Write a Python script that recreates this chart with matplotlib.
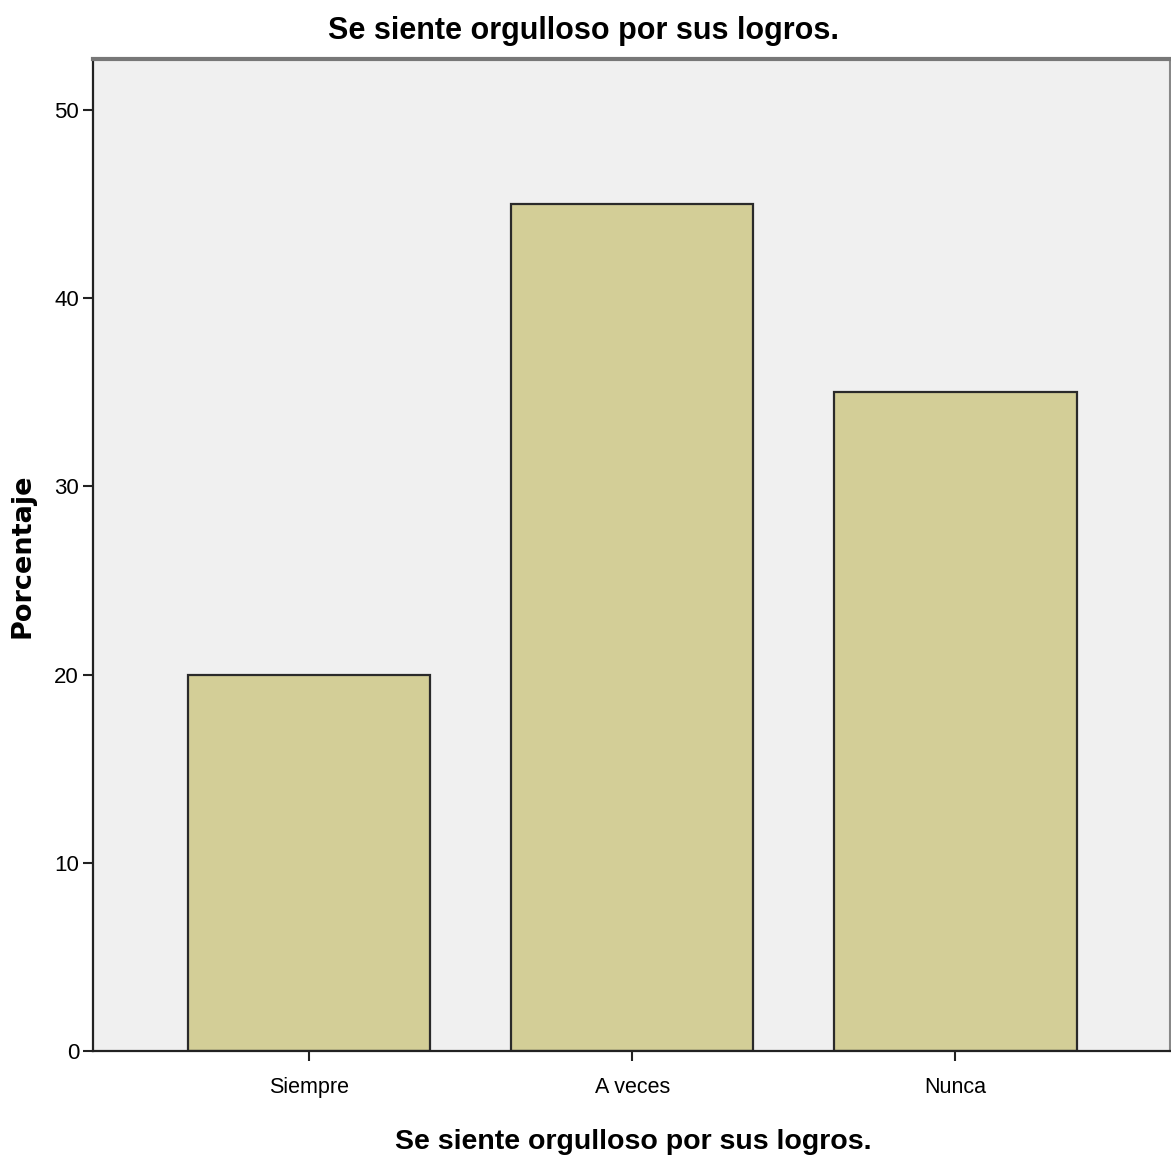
import matplotlib
matplotlib.use("Agg")
import matplotlib.pyplot as plt
from matplotlib import font_manager

categories = ["Siempre", "A veces", "Nunca"]
percentages = [20, 45, 35]
yticks = [0, 10, 20, 30, 40, 50]
title = "Se siente orgulloso por sus logros."
xlabel = "Se siente orgulloso por sus logros."
ylabel = "Porcentaje"

names = {f.name for f in font_manager.fontManager.ttflist}
narrow = "Liberation Sans Narrow" if "Liberation Sans Narrow" in names else "Liberation Sans"

fig = plt.figure(figsize=(11.71, 11.62), dpi=100)
ax = fig.add_axes([93/1171, 111/1162, 1077/1171, 992/1162])
ax.set_facecolor("#F0F0F0")

x = range(len(categories))
ax.bar(x, percentages, width=0.75, color="#D3CE97", edgecolor="#2a2a2a", linewidth=1.6, zorder=2)

ax.set_xlim(-0.668, 2.664)
ax.set_ylim(0, 52.7)
ax.set_xticks(list(x))
ax.set_xticklabels(categories, fontfamily=narrow, fontsize=15.5)
ax.set_yticks(yticks)
ax.set_yticklabels([str(t) for t in yticks], fontfamily=narrow, fontsize=16)
ax.tick_params(axis="both", direction="out", length=7, width=1.5, color="#222222")
ax.tick_params(axis="x", pad=12)
ax.tick_params(axis="y", pad=3)

for s in ["left", "bottom"]:
    ax.spines[s].set_color("#222222")
    ax.spines[s].set_linewidth(1.6)
ax.spines["top"].set_color("#777777")
ax.spines["top"].set_linewidth(3)
ax.spines["right"].set_color("#888888")
ax.spines["right"].set_linewidth(1.5)

fig.text(583.5/1171, 1 - 31/1162, title, ha="center", va="center",
         fontfamily=narrow, fontweight="bold", fontsize=22)
fig.text(633.5/1171, 1 - 1142/1162, xlabel, ha="center", va="center",
         fontfamily=narrow, fontweight="bold", fontsize=20.5)
fig.text(23/1171, 1 - 556/1162, ylabel, ha="center", va="center", rotation=90,
         fontfamily="DejaVu Sans", fontweight="bold", fontsize=19.5)

fig.savefig("out.png", dpi=100, facecolor="white")
